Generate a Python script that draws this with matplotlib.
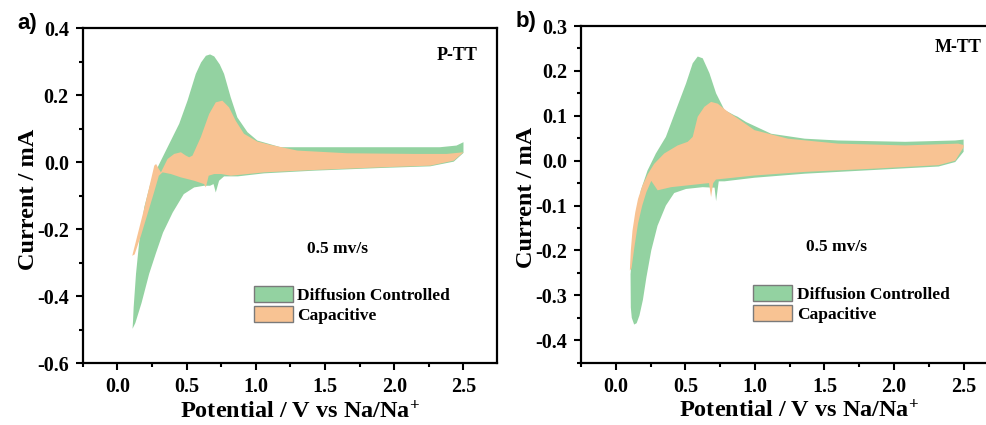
import matplotlib
matplotlib.use("Agg")
import matplotlib.pyplot as plt
from matplotlib.patches import Patch
from matplotlib.ticker import MultipleLocator

# ---------------- data ----------------
# P-TT, total (diffusion controlled) CV envelope
ptt_green_an_v = [0.11, 0.114, 0.118, 0.135, 0.159, 0.195, 0.238, 0.279, 0.327, 0.387, 0.447, 0.507, 0.567,
                  0.605, 0.64, 0.67, 0.70, 0.74, 0.771, 0.819, 0.867, 0.94, 1.011, 1.18, 1.49, 1.9, 2.33,
                  2.45, 2.5]
ptt_green_an_i = [-0.497, -0.47, -0.433, -0.333, -0.234, -0.134, -0.065, -0.025, 0.015, 0.065, 0.115, 0.184,
                  0.264, 0.298, 0.318, 0.322, 0.316, 0.292, 0.264, 0.194, 0.134, 0.09, 0.065, 0.045, 0.045,
                  0.045, 0.045, 0.05, 0.06]
ptt_green_ca_v = [2.5, 2.43, 2.26, 1.9, 1.42, 1.06, 0.87, 0.771, 0.735, 0.711, 0.695, 0.67, 0.627, 0.555,
                  0.48, 0.40, 0.33, 0.28, 0.23, 0.175, 0.13, 0.11]
ptt_green_ca_i = [0.028, 0.002, -0.012, -0.017, -0.025, -0.033, -0.042, -0.042, -0.055, -0.09, -0.065, -0.07,
                  -0.07, -0.075, -0.095, -0.15, -0.21, -0.27, -0.333, -0.42, -0.48, -0.497]
# P-TT, capacitive contribution
ptt_orange_an_v = [0.108, 0.15, 0.19, 0.23, 0.267, 0.28, 0.3, 0.315, 0.363, 0.411, 0.459, 0.495, 0.519, 0.543,
                   0.603, 0.663, 0.711, 0.759, 0.807, 0.855, 0.915, 1.011, 1.107, 1.3, 1.66, 2.14, 2.38, 2.5]
ptt_orange_an_i = [-0.279, -0.21, -0.145, -0.075, -0.01, -0.005, -0.02, -0.03, 0.01, 0.025, 0.03, 0.02, 0.015,
                   0.02, 0.075, 0.144, 0.179, 0.184, 0.164, 0.124, 0.085, 0.062, 0.052, 0.035, 0.027, 0.025,
                   0.025, 0.03]
ptt_orange_ca_v = [2.5, 2.43, 2.26, 1.9, 1.42, 1.06, 0.82, 0.75, 0.7, 0.66, 0.639, 0.627, 0.555, 0.459, 0.387,
                   0.327, 0.30, 0.265, 0.225, 0.17, 0.125]
ptt_orange_ca_i = [0.03, 0.005, -0.01, -0.015, -0.023, -0.03, -0.04, -0.035, -0.035, -0.04, -0.075, -0.065,
                   -0.055, -0.045, -0.035, -0.03, -0.04, -0.09, -0.145, -0.22, -0.275]

# M-TT, total (diffusion controlled) CV envelope
mtt_green_an_v = [0.132, 0.115, 0.108, 0.106, 0.12, 0.144, 0.18, 0.228, 0.288, 0.36, 0.433, 0.505, 0.553,
                  0.589, 0.625, 0.673, 0.721, 0.781, 0.853, 0.875, 0.937, 1.117, 1.358, 1.598, 2.08, 2.44, 2.5]
mtt_green_an_i = [-0.365, -0.35, -0.327, -0.253, -0.193, -0.126, -0.066, -0.022, 0.016, 0.053, 0.113, 0.172,
                  0.217, 0.232, 0.228, 0.195, 0.15, 0.113, 0.101, 0.098, 0.086, 0.06, 0.049, 0.045, 0.042,
                  0.045, 0.047]
mtt_green_ca_v = [2.5, 2.44, 2.32, 1.84, 1.358, 0.997, 0.781, 0.74, 0.721, 0.71, 0.69, 0.625, 0.505, 0.42,
                  0.36, 0.30, 0.255, 0.22, 0.195, 0.17, 0.15, 0.132]
mtt_green_ca_i = [0.02, -0.003, -0.013, -0.021, -0.029, -0.038, -0.046, -0.046, -0.09, -0.06, -0.06, -0.059,
                  -0.063, -0.072, -0.1, -0.145, -0.2, -0.26, -0.31, -0.345, -0.362, -0.365]
# M-TT, capacitive contribution
mtt_orange_an_v = [0.101, 0.108, 0.12, 0.14, 0.16, 0.192, 0.23, 0.276, 0.348, 0.445, 0.517, 0.553, 0.589,
                   0.637, 0.685, 0.733, 0.805, 0.877, 0.997, 1.238, 1.598, 2.08, 2.46, 2.5]
mtt_orange_an_i = [-0.245, -0.2, -0.156, -0.115, -0.085, -0.055, -0.03, -0.007, 0.016, 0.034, 0.042, 0.053,
                   0.098, 0.12, 0.131, 0.127, 0.109, 0.094, 0.068, 0.049, 0.038, 0.034, 0.038, 0.035]
mtt_orange_ca_v = [2.5, 2.44, 2.32, 1.84, 1.358, 0.997, 0.781, 0.72, 0.7, 0.685, 0.67, 0.637, 0.517, 0.397,
                   0.301, 0.255, 0.22, 0.19, 0.16, 0.135, 0.113]
mtt_orange_ca_i = [0.03, 0.0, -0.01, -0.018, -0.025, -0.033, -0.04, -0.042, -0.05, -0.081, -0.05, -0.051,
                   -0.055, -0.059, -0.066, -0.045, -0.07, -0.10, -0.14, -0.19, -0.24]

legend_labels = ["Diffusion Controlled", "Capacitive"]
sample_names = ["P-TT", "M-TT"]
panel_tags = ["a)", "b)"]
scan_rate = "0.5 mv/s"
xticks = [0.0, 0.5, 1.0, 1.5, 2.0, 2.5]
yticks_a = [-0.6, -0.4, -0.2, 0.0, 0.2, 0.4]
yticks_b = [-0.4, -0.3, -0.2, -0.1, 0.0, 0.1, 0.2, 0.3]

# ---------------- style ----------------
GREEN = "#93d2a1"
ORANGE = "#f8c393"
SERIF = ["Liberation Serif", "DejaVu Serif"]
plt.rcParams["font.family"] = SERIF
plt.rcParams["font.weight"] = "bold"
plt.rcParams["mathtext.fontset"] = "custom"
plt.rcParams["mathtext.rm"] = "Liberation Serif:bold"
plt.rcParams["mathtext.bf"] = "Liberation Serif:bold"
plt.rcParams["mathtext.it"] = "Liberation Serif:bold"

fig = plt.figure(figsize=(9.87, 4.25), dpi=100)
ax_a = fig.add_axes([82.7 / 987, (425 - 363.3) / 425, 414.0 / 987, 335.0 / 425])
ax_b = fig.add_axes([581.0 / 987, (425 - 362.7) / 425, 416.0 / 987, 336.7 / 425])


def envelope(an_v, an_i, ca_v, ca_i):
    return list(an_v) + list(ca_v), list(an_i) + list(ca_i)


def style_axes(ax, ylim, yticks, yminor):
    ax.set_xlim(-0.25, 2.74)
    ax.set_ylim(*ylim)
    ax.set_xticks(xticks)
    ax.set_xticklabels([f"{t:.1f}" for t in xticks])
    ax.set_yticks(yticks)
    ax.set_yticklabels([f"{t:.1f}" for t in yticks])
    ax.xaxis.set_minor_locator(MultipleLocator(0.25))
    ax.yaxis.set_minor_locator(MultipleLocator(yminor))
    ax.tick_params(which="both", direction="out", width=1.5, top=False, right=False)
    ax.tick_params(which="major", length=5, pad=5, labelsize=14.5)
    ax.tick_params(which="minor", length=3)
    for s in ax.spines.values():
        s.set_linewidth(1.6)
    ax.set_xlabel(r"Potential / V vs Na/Na$^{+}$", fontsize=17.5, fontweight="bold")
    ax.set_ylabel("Current / mA", fontsize=17.5, fontweight="bold")
    ax.xaxis.set_label_coords(0.525, -0.11)
    ax.yaxis.set_label_coords(-0.105, 0.49)


panels = [
    (ax_a, (ptt_green_an_v, ptt_green_an_i, ptt_green_ca_v, ptt_green_ca_i),
     (ptt_orange_an_v, ptt_orange_an_i, ptt_orange_ca_v, ptt_orange_ca_i),
     (-0.6, 0.4), yticks_a, 0.1, 0, (2.455, 0.318), (1.59, -0.258)),
    (ax_b, (mtt_green_an_v, mtt_green_an_i, mtt_green_ca_v, mtt_green_ca_i),
     (mtt_orange_an_v, mtt_orange_an_i, mtt_orange_ca_v, mtt_orange_ca_i),
     (-0.45, 0.3), yticks_b, 0.05, 1, (2.46, 0.251), (1.59, -0.192)),
]

for ax, g, o, ylim, yt, ymin, k, name_xy, rate_xy in panels:
    gx, gy = envelope(*g)
    ox, oy = envelope(*o)
    ax.fill(gx, gy, color=GREEN, lw=0)
    ax.fill(ox, oy, color=ORANGE, lw=0)
    style_axes(ax, ylim, yt, ymin)
    ax.text(*name_xy, sample_names[k], ha="center", va="center", fontsize=13, fontweight="bold")
    ax.text(*rate_xy, scan_rate, ha="center", va="center", fontsize=12.5, fontweight="bold")
    handles = [Patch(facecolor=GREEN, edgecolor="#7a7a7a", linewidth=1.0),
               Patch(facecolor=ORANGE, edgecolor="#7a7a7a", linewidth=1.0)]
    ax.legend(handles, legend_labels, loc="upper left", bbox_to_anchor=(0.414, 0.232), frameon=False,
              prop={"family": SERIF, "weight": "bold", "size": 12.5},
              handlelength=2.25, handleheight=1.1, handletextpad=0.25, labelspacing=0.1,
              borderaxespad=0.0, borderpad=0.0)

fig.text(27 / 987, 1 - 24 / 425, panel_tags[0], ha="center", va="center", fontsize=16,
         fontweight="bold", family=["Liberation Sans", "DejaVu Sans"])
fig.text(526 / 987, 1 - 21 / 425, panel_tags[1], ha="center", va="center", fontsize=16,
         fontweight="bold", family=["Liberation Sans", "DejaVu Sans"])

fig.savefig("out.png", dpi=100)
